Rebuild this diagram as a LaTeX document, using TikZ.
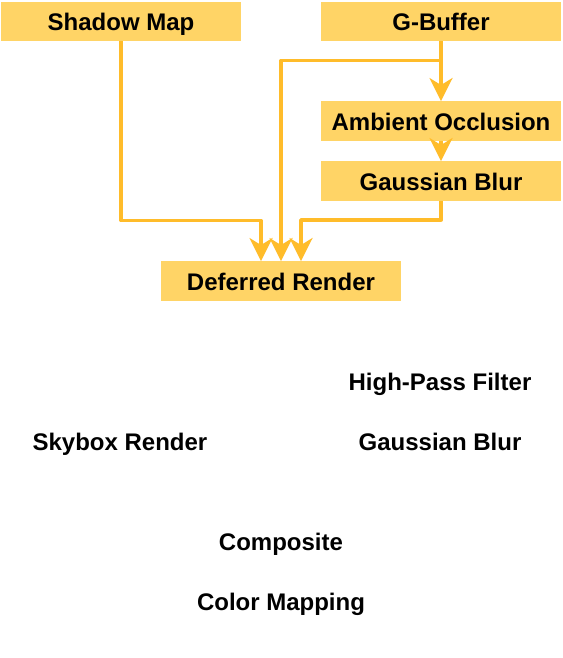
\documentclass[tikz,border=0pt]{standalone}
\usepackage{fontspec}
\setmainfont{Liberation Sans}
\usepackage{tikz}
\usetikzlibrary{arrows.meta}

\definecolor{boxfill}{HTML}{FFD466}
\definecolor{flowline}{HTML}{FFBC2A}

\begin{document}
\begin{tikzpicture}[x=1pt, y=-1pt, line join=round,
  every node/.style={font=\fontsize{24}{28}\selectfont\bfseries, inner sep=0pt,
    text height=21pt, text depth=3pt},
  passbox/.style={fill=boxfill, minimum width=240pt, minimum height=39.5pt},
  flow/.style={draw=flowline, line width=3.5pt,
    -{Stealth[length=23pt, width=23pt, inset=7pt]}}]
\useasboundingbox (0,0) rectangle (562,658);
% passes with a box
\node[passbox] (shadow) at (121,21.5) {Shadow Map};
\node[passbox] (gbuf) at (441,21.5) {G-Buffer};
\node[passbox] (ao) at (441,121) {Ambient Occlusion};
\node[passbox] (blur) at (441,181) {Gaussian Blur};
\node[passbox] (deferred) at (281,281) {Deferred Render};
% passes without a box
\node (highpass) at (440,381) {High-Pass Filter};
\node (skybox) at (120,441) {Skybox Render};
\node (blurtwo) at (440,441) {Gaussian Blur};
\node (composite) at (281,541) {Composite};
\node (colormap) at (281,601) {Color Mapping};
% connectors
\draw[flow] (shadow.south) -- ++(0,179) -| ([xshift=-20pt]deferred.north);
\draw[flow] (gbuf.south) -- ++(0,19) -| (deferred.north);
\draw[flow] (gbuf.south) -- (ao.north);
\draw[flow] (ao.south) -- (blur.north);
\draw[flow] (blur.south) -- ++(0,19) -| ([xshift=20pt]deferred.north);
\end{tikzpicture}
\end{document}
